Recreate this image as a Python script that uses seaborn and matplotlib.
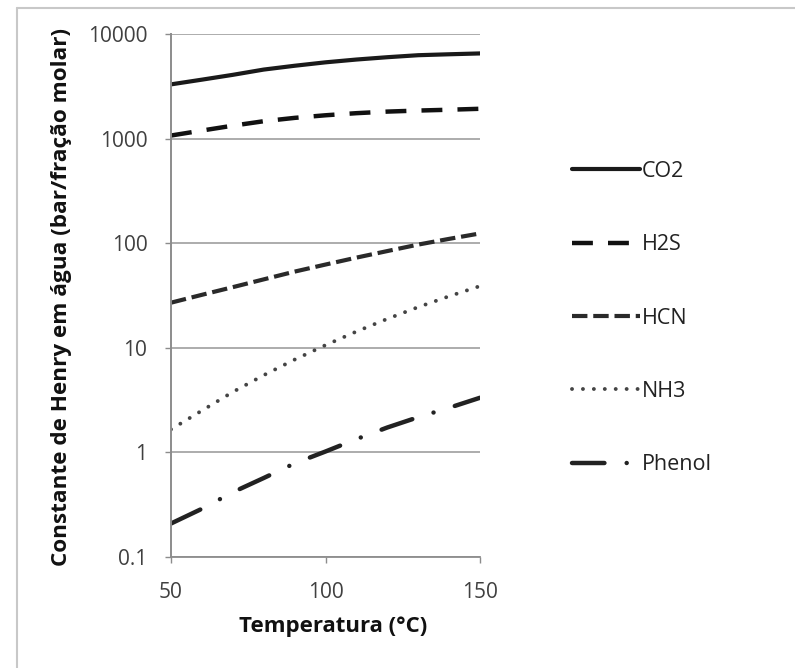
import matplotlib
matplotlib.use("Agg")
import matplotlib.pyplot as plt
from matplotlib.lines import Line2D
from matplotlib.ticker import FixedLocator, NullLocator
import seaborn as sns
import pandas as pd

temps = [50, 60, 70, 80, 90, 100, 110, 120, 130, 140, 150]
co2 = [3300, 3660, 4070, 4570, 4970, 5360, 5700, 6000, 6270, 6400, 6520]
h2s = [1070, 1194, 1329, 1466, 1578, 1671, 1750, 1812, 1854, 1888, 1928]
hcn = [27.0, 32.1, 38.0, 45.1, 53.5, 62.5, 72.8, 84.1, 97.0, 110.0, 124.0]
nh3 = [1.66, 2.51, 3.78, 5.47, 7.71, 10.6, 14.3, 18.9, 24.5, 31.1, 38.9]
phenol = [0.209, 0.289, 0.416, 0.569, 0.785, 1.02, 1.34, 1.73, 2.17, 2.67, 3.33]
series_names = ["CO2", "H2S", "HCN", "NH3", "Phenol"]
y_ticks = [0.1, 1, 10, 100, 1000, 10000]
y_tick_labels = ["0.1", "1", "10", "100", "1000", "10000"]
x_ticks = [50, 100, 150]

sns.set_theme(style="white")
plt.rcParams['font.family'] = ['Open Sans', 'DejaVu Sans']

rows = []
for name, vals in zip(series_names, [co2, h2s, hcn, nh3, phenol]):
    for t, v in zip(temps, vals):
        rows.append({"Temperatura": t, "K": v, "Gas": name})
df = pd.DataFrame(rows)

styles = {
    "CO2": dict(ls="-", lw=3.0, color="#1a1a1a", cap="round"),
    "H2S": dict(ls=(0, (4.7, 3.4)), lw=3.2, color="#111111", cap="butt"),
    "HCN": dict(ls=(0, (3.7, 1.4)), lw=3.0, color="#2a2a2a", cap="butt"),
    "NH3": dict(ls=(0, (0.01, 2.8)), lw=2.8, color="#444444", cap="round"),
    "Phenol": dict(ls=(0, (7.3, 5.0, 0.01, 5.0)), lw=3.2, color="#222222", cap="round"),
}

fig = plt.figure(figsize=(7.95, 6.68), dpi=100)
ax = fig.add_axes([171/795, 1 - 557/668, (480-171)/795, (557-34)/668])

for name in series_names:
    sub = df[df["Gas"] == name]
    st = styles[name]
    sns.lineplot(data=sub, x="Temperatura", y="K", ax=ax, color=st["color"],
                 linewidth=st["lw"], legend=False)
    line = ax.lines[-1]
    line.set_linestyle(st["ls"])
    line.set_dash_capstyle(st["cap"])
    line.set_solid_capstyle("round")

ax.set_yscale("log")
ax.set_ylim(0.1, 10000)
ax.set_xlim(50, 150)
ax.yaxis.set_major_locator(FixedLocator(y_ticks))
ax.yaxis.set_minor_locator(NullLocator())
ax.set_yticklabels(y_tick_labels)
ax.set_xticks(x_ticks)
ax.set_xticklabels([str(x) for x in x_ticks])

ax.grid(axis="y", color="#a6a6a6", linewidth=1.3)
ax.grid(axis="x", visible=False)
ax.set_axisbelow(True)
for s in ["top", "right"]:
    ax.spines[s].set_visible(False)
ax.spines["left"].set_color("#8c8c8c")
ax.spines["left"].set_linewidth(1.4)
ax.spines["bottom"].set_color("#8c8c8c")
ax.spines["bottom"].set_linewidth(1.3)
ax.tick_params(axis="both", which="major", direction="out", length=4, width=1.0,
               color="#8c8c8c", labelsize=15, labelcolor="#404040", left=True, bottom=True)
ax.tick_params(axis="y", pad=13)
ax.tick_params(axis="x", pad=14)

ax.set_xlabel("Temperatura (°C)", fontsize=16, fontweight="bold", color="#111111")
ax.set_ylabel("Constante de Henry em água (bar/fração molar)", fontsize=16.2,
              fontweight="bold", color="#111111")
ax.xaxis.set_label_coords(0.524, -0.112)
ax.yaxis.set_label_coords(-0.32, 0.497)

handles = [Line2D([0], [0], color=styles[n]["color"], lw=styles[n]["lw"],
                  ls=styles[n]["ls"], dash_capstyle=styles[n]["cap"],
                  solid_capstyle="round")
           for n in series_names]
leg = fig.legend(handles, series_names, loc="center left",
                 bbox_to_anchor=(572/795, 1 - 318/668),
                 frameon=False, fontsize=15.5, labelspacing=2.43, handlelength=3.16,
                 handletextpad=0.1, borderpad=0, borderaxespad=0, labelcolor="#222222")

# outer chart border (top and left visible)
fig.add_artist(Line2D([17/795, 1.0], [1 - 8/668, 1 - 8/668], color="#c8c8c8", lw=1.5,
                      transform=fig.transFigure))
fig.add_artist(Line2D([17/795, 17/795], [0.0, 1 - 8/668], color="#c8c8c8", lw=1.5,
                      transform=fig.transFigure))

fig.savefig("out.png", dpi=100)
